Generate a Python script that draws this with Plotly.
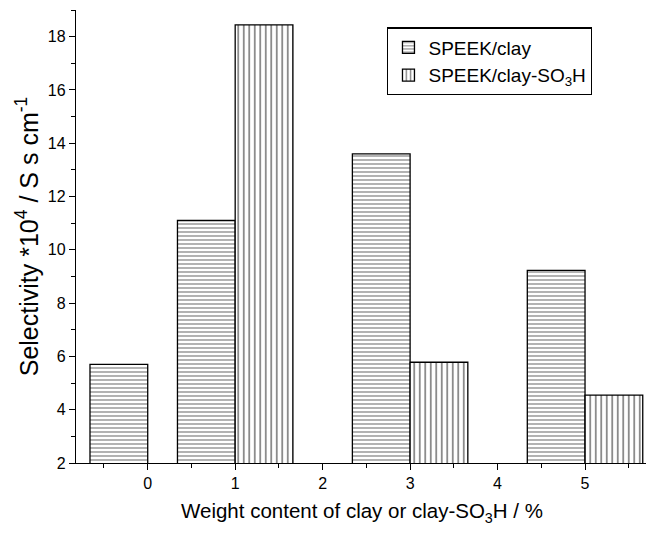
import plotly.graph_objects as go

weights = [0, 1, 2, 3, 4, 5]
clay_vals = [5.70, 11.10, None, 13.60, None, 9.23]
clay_so3h_vals = [None, 18.44, None, 5.78, None, 4.55]
series_names = ["SPEEK/clay", "SPEEK/clay-SO<sub>3</sub>H"]

fig = go.Figure()
fig.add_trace(go.Bar(
    x=weights, y=clay_vals, name=series_names[0],
    width=0.66, offset=-0.66,
    marker=dict(color="white", line=dict(color="black", width=1.3),
                pattern=dict(shape="-", fgcolor="black", bgcolor="white", size=4, solidity=0.3)),
))
fig.add_trace(go.Bar(
    x=weights, y=clay_so3h_vals, name=series_names[1],
    width=0.66, offset=0,
    marker=dict(color="white", line=dict(color="black", width=1.3),
                pattern=dict(shape="|", fgcolor="black", bgcolor="white", size=5.5, solidity=0.3)),
))

font = "Liberation Sans, Arial, sans-serif"
fig.update_layout(
    width=654, height=536,
    margin=dict(l=68, r=14, t=2, b=81),
    plot_bgcolor="white", paper_bgcolor="white",
    barmode="overlay",
    font=dict(family=font, color="black", size=16),
    showlegend=True,
    legend=dict(x=0.544, y=0.962, xanchor="left", yanchor="top",
                bordercolor="black", borderwidth=1.3, bgcolor="white",
                font=dict(size=19), tracegroupgap=0, itemwidth=30),
    xaxis=dict(range=[-0.82, 5.72], tickmode="linear", tick0=0, dtick=1,
               automargin=False,
               showline=True, linecolor="black", linewidth=1.3,
               ticks="outside", ticklen=6, tickwidth=1.3, tickcolor="black",
               showgrid=False, zeroline=False,
               minor=dict(tick0=0, dtick=0.5, ticks="outside", ticklen=4, tickcolor="black", tickwidth=1.3),
               title=dict(text="Weight content of clay or clay-SO<sub>3</sub>H / %", font=dict(size=20.5), standoff=12),
               tickfont=dict(size=16)),
    yaxis=dict(range=[2, 19], tickmode="linear", tick0=2, dtick=2,
               automargin=False,
               showline=True, linecolor="black", linewidth=1.3,
               ticks="outside", ticklen=6, tickwidth=1.3, tickcolor="black",
               showgrid=False, zeroline=False,
               minor=dict(tick0=2, dtick=1, ticks="outside", ticklen=4, tickcolor="black", tickwidth=1.3),
               title=dict(text="Selectivity *10<sup>4</sup> / S s cm<sup>-1</sup>", font=dict(size=25), standoff=2),
               tickfont=dict(size=16)),
)

fig.write_html("out.html")
